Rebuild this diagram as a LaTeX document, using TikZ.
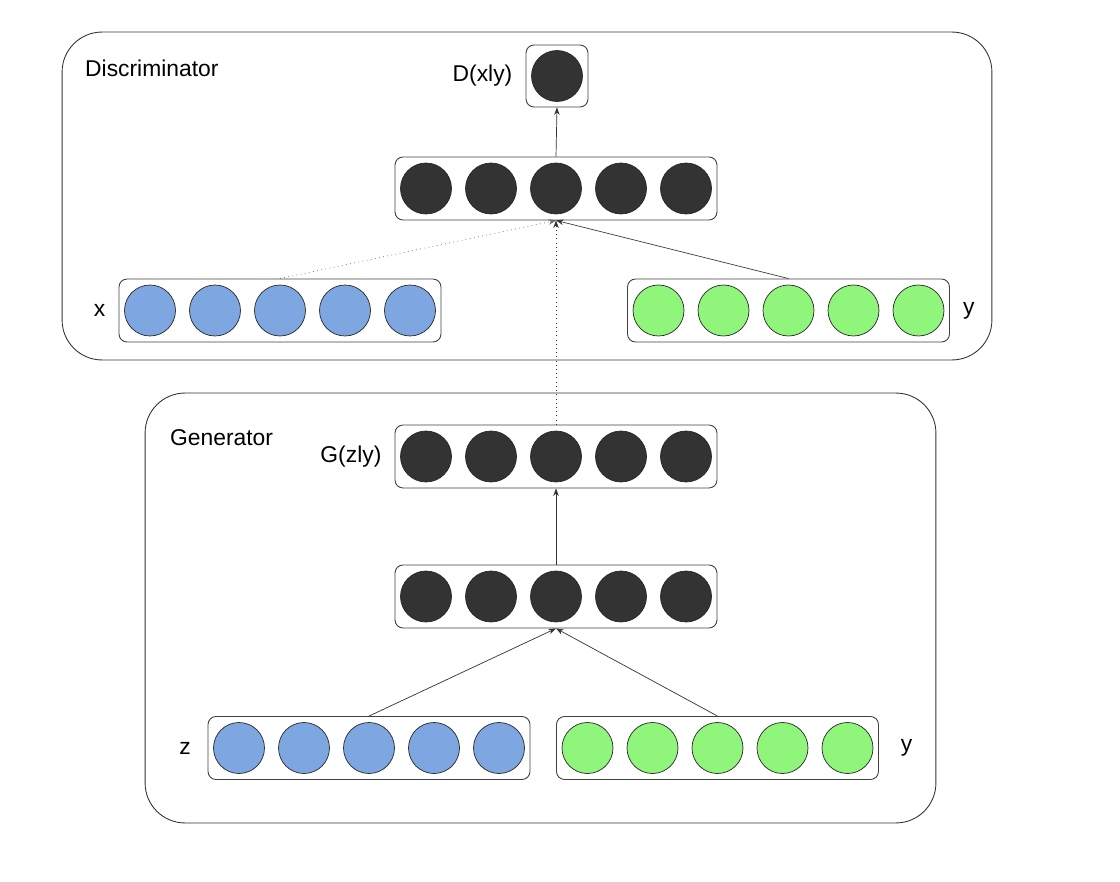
\documentclass[tikz,border=0pt]{standalone}
\usepackage{fontspec}
\setmainfont{Liberation Sans}
\usepackage{tikz}
\usepackage{xcolor}
\usetikzlibrary{positioning,arrows.meta,calc}

\definecolor{cellDark}{RGB}{51,51,51}
\definecolor{cellBlue}{RGB}{126,166,224}
\definecolor{cellGreen}{RGB}{144,245,123}

\begin{document}
\begin{tikzpicture}[x=0.02cm,y=-0.02cm,
    every node/.style={font=\fontsize{13}{15}\selectfont},
    frame/.style={draw=black!80,rounded corners=0.8cm,line width=0.5pt,inner sep=0pt},
    layer/.style={draw=black!75,rounded corners=0.16cm,line width=0.5pt,
      minimum width=6.44cm,minimum height=1.26cm,inner sep=0pt},
    cell/.style={circle,draw=black!85,line width=0.4pt,minimum size=1.02cm,inner sep=0pt},
    link/.style={-{Stealth[length=1.5mm,width=1.1mm]},line width=0.4pt,black!80},
    dots/.style={link,dotted}]
  \useasboundingbox (0,0) rectangle (1120,882);

  % outer frames
  \node[frame,minimum width=18.6cm,minimum height=6.56cm] (disc) at (527,196) {};
  \node[frame,minimum width=15.82cm,minimum height=8.6cm] (gen) at (540.5,608) {};
  \node[anchor=west] at (79,68) {Discriminator};
  \node[anchor=west] at (164,438) {Generator};

  % layer boxes
  \node[layer,minimum width=1.24cm,minimum height=1.24cm] (dout) at (557,76) {};
  \node[layer] (dhid) at (556,188.5) {};
  \node[layer] (xin) at (280,310.5) {};
  \node[layer] (ydisc) at (788.5,310.5) {};
  \node[layer] (gout) at (556,456.5) {};
  \node[layer] (ghid) at (556,596.5) {};
  \node[layer] (zin) at (369,748) {};
  \node[layer] (ygen) at (717.5,748) {};

  % cells
  \node[cell,fill=cellDark] (dout1) at (dout) {};
  \foreach \i in {1,...,5} {
    \node[cell,fill=cellDark] (dhid\i) at ($(dhid)+({(\i-3)*65},0)$) {};
    \node[cell,fill=cellBlue] (xin\i) at ($(xin)+({(\i-3)*65},0)$) {};
    \node[cell,fill=cellGreen] (ydisc\i) at ($(ydisc)+({(\i-3)*65},0)$) {};
    \node[cell,fill=cellDark] (gout\i) at ($(gout)+({(\i-3)*65},0)$) {};
    \node[cell,fill=cellDark] (ghid\i) at ($(ghid)+({(\i-3)*65},0)$) {};
    \node[cell,fill=cellBlue] (zin\i) at ($(zin)+({(\i-3)*65},0)$) {};
    \node[cell,fill=cellGreen] (ygen\i) at ($(ygen)+({(\i-3)*65},0)$) {};
  }

  % labels
  \node[left=4pt of dout] {D(xly)};
  \node[left=4pt of xin] {x};
  \node[right=4pt of ydisc,yshift=0pt] {y};
  \node[left=6pt of gout,xshift=2pt] {G(zly)};
  \node[left=6pt of zin] {z};
  \node[right=9pt of ygen] {y};

  % connections
  \draw[link] (dhid.north) -- (dout.south);
  \draw[dots,black!60] (xin.north) -- (dhid.south);
  \draw[link] (ydisc.north) -- (dhid.south);
  \draw[dots] (gout.north) -- (dhid.south);
  \draw[link] (ghid.north) -- (gout.south);
  \draw[link] (zin.north) -- (ghid.south);
  \draw[link] (ygen.north) -- (ghid.south);
\end{tikzpicture}
\end{document}
